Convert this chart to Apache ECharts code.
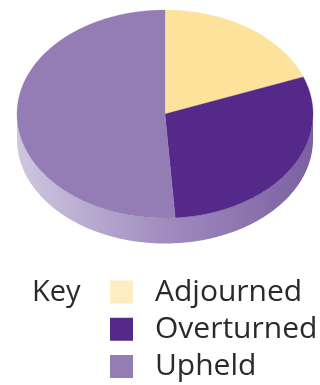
<!DOCTYPE html>
<html>
<head>
<meta charset="utf-8">
<style>html,body{margin:0;padding:0;background:#fff}#c{width:320px;height:385px}</style>
<script src="https://cdn.jsdelivr.net/npm/echarts@6/dist/echarts.min.js"></script>
</head>
<body>
<div id="c"></div>
<script>
var categories = ['Adjourned', 'Overturned', 'Upheld'];
var values = [19.2, 29.7, 51.1];
var pieColors = ['#fde29c', '#55298a', '#947db5'];
var keyColors = ['#feedc3', '#55298a', '#947db5'];

var CX = 165, CY = 114, RX = 148, RY = 104, DEPTH = 25.5;
var total = values.reduce(function (a, b) { return a + b; }, 0);

function pt(turn, dy) {
  var a = turn * 2 * Math.PI;
  return [CX + RX * Math.sin(a), CY - RY * Math.cos(a) + (dy || 0)];
}
function slicePoints(from, to) {
  var pts = [[CX, CY]];
  var n = Math.max(2, Math.ceil((to - from) * 720));
  for (var i = 0; i <= n; i++) pts.push(pt(from + (to - from) * i / n));
  return pts;
}
function wallPoints() {
  var pts = [], i;
  for (i = 0; i <= 360; i++) pts.push(pt(0.25 + 0.5 * i / 360));
  for (i = 360; i >= 0; i--) pts.push(pt(0.25 + 0.5 * i / 360, DEPTH));
  return pts;
}

var series = [{
  type: 'custom',
  name: 'wall',
  coordinateSystem: 'none',
  silent: true,
  animation: false,
  data: [[1]],
  renderItem: function () {
    return {
      type: 'polygon',
      shape: { points: wallPoints() },
      style: {
        fill: new echarts.graphic.LinearGradient(CX - RX, 0, CX + RX, 0, [
          { offset: 0, color: '#cfc7e0' },
          { offset: 0.5, color: '#a08cbf' },
          { offset: 1, color: '#7c5fa0' }
        ], true)
      }
    };
  }
}];

var cum = 0;
categories.forEach(function (name, k) {
  var from = cum / total;
  cum += values[k];
  var to = cum / total;
  series.push({
    type: 'custom',
    name: name,
    coordinateSystem: 'none',
    silent: true,
    animation: false,
    itemStyle: { color: keyColors[k] },
    data: [[values[k]]],
    renderItem: function () {
      return {
        type: 'polygon',
        shape: { points: slicePoints(from, to) },
        style: { fill: pieColors[k], stroke: pieColors[k], lineWidth: 0.3 }
      };
    }
  });
});

var chart = echarts.init(document.getElementById('c'), null, { renderer: 'canvas' });
chart.setOption({
  animation: false,
  backgroundColor: '#ffffff',
  title: {
    text: 'Key',
    left: 32,
    top: 278,
    padding: 0,
    textStyle: { fontFamily: 'Open Sans', fontWeight: 'normal', fontSize: 29, color: '#2b2a29' }
  },
  legend: {
    orient: 'vertical',
    left: 110,
    top: 277,
    height: 120,
    padding: 0,
    itemWidth: 23,
    itemHeight: 23,
    itemGap: 7.25,
    icon: 'rect',
    selectedMode: false,
    data: categories.map(function (name, k) {
      return { name: name, itemStyle: { color: keyColors[k] } };
    }),
    textStyle: { fontFamily: 'Open Sans', fontSize: 30, lineHeight: 23, color: '#2b2a29', padding: [2, 0, 0, 17] }
  },
  series: series
});
</script>
</body>
</html>
